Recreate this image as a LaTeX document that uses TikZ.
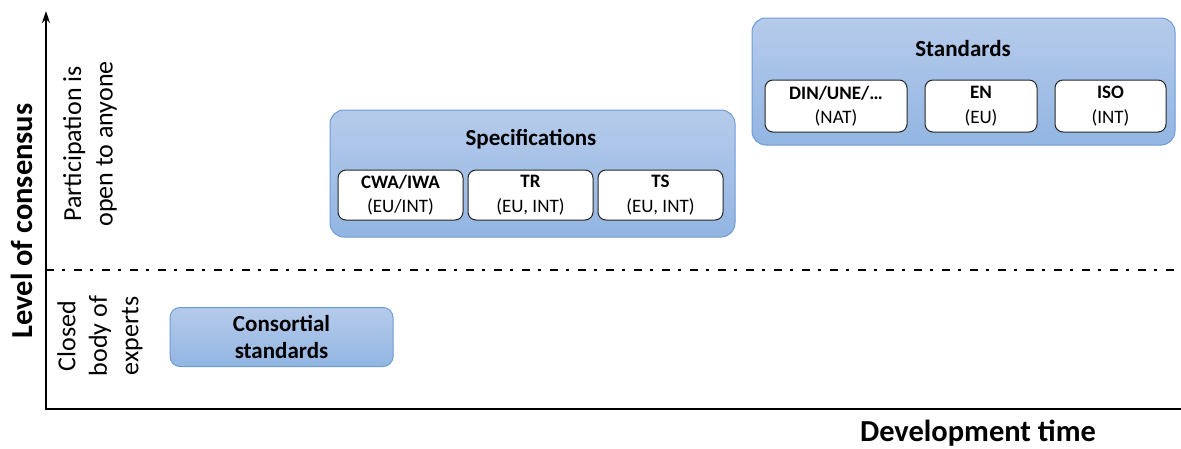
\documentclass[tikz,border=0pt]{standalone}
\usepackage{fontspec}
\setmainfont{Carlito}
\usetikzlibrary{arrows.meta}
\definecolor{boxtop}{RGB}{182,203,235}
\definecolor{boxbot}{RGB}{146,181,226}
\definecolor{boxdraw}{RGB}{108,155,216}
\tikzset{
  outerbox/.style={draw=boxdraw, line width=1pt, top color=boxtop, bottom color=boxbot, rounded corners=14pt, inner sep=0pt},
  subbox/.style={draw=black!85, fill=white, rounded corners=8pt, line width=1pt, align=center, inner sep=0pt, font=\fontsize{19}{24.5}\selectfont},
  titletext/.style={font=\bfseries\fontsize{23}{27}\selectfont},
  axis/.style={line width=2.4pt},
  sidetext/.style={rotate=90, align=center, font=\fontsize{26}{31.5}\selectfont},
  bigtext/.style={font=\bfseries\fontsize{30.5}{36}\selectfont}
}
\begin{document}
\begin{tikzpicture}[x=1pt,y=-1pt]
\useasboundingbox (0,0) rectangle (1181,448);
% axes
\coordinate (yb) at (46,410);
\coordinate (yt) at (46,11);
\coordinate (xl) at (45,409);
\coordinate (xr) at (1181,409);
\coordinate (dl) at (46,270);
\coordinate (dr) at (1181,270);
\draw[axis, -{Stealth[length=12pt,width=8pt]}] (yb) -- (yt);
\draw[axis] (xl) -- (xr);
\draw[line width=1.8pt, dash pattern=on 8pt off 8pt on 3pt off 9pt] (dl) -- (dr);
% axis labels
\node[bigtext, rotate=90] (ylab) at (22,221) {Level of consensus};
\node[bigtext] (xlab) at (978,433) {Development time};
\node[sidetext] (open) at (90,144) {Participation is\\open to anyone};
\node[sidetext] (closed) at (100,336) {Closed\\body of\\experts};
% specifications
\node[outerbox, minimum width=405pt, minimum height=127pt] (spec) at (532.5,173.5) {};
\node[titletext] (spect) at (531,139) {Specifications};
\node[subbox, minimum width=125pt, minimum height=50pt] (cwa) at (400.5,195) {\textbf{CWA/IWA}\\(EU/INT)};
\node[subbox, minimum width=125pt, minimum height=50pt] (tr) at (530.5,195) {\textbf{TR}\\(EU, INT)};
\node[subbox, minimum width=125pt, minimum height=50pt] (ts) at (660.5,195) {\textbf{TS}\\(EU, INT)};
% standards
\node[outerbox, minimum width=423pt, minimum height=127pt] (std) at (963.5,81.5) {};
\node[titletext] (stdt) at (963,49) {Standards};
\node[subbox, minimum width=142pt, minimum height=52pt] (din) at (836,106) {\textbf{DIN/UNE/…}\\(NAT)};
\node[subbox, minimum width=112pt, minimum height=52pt] (en) at (981,106) {\textbf{EN}\\(EU)};
\node[subbox, minimum width=111pt, minimum height=52pt] (iso) at (1110.5,106) {\textbf{ISO}\\(INT)};
% consortial
\node[outerbox, rounded corners=10pt, minimum width=223pt, minimum height=59pt, align=center, font=\bfseries\fontsize{23}{27}\selectfont] (cons) at (281.5,337) {Consortial\\standards};
\end{tikzpicture}
\end{document}
